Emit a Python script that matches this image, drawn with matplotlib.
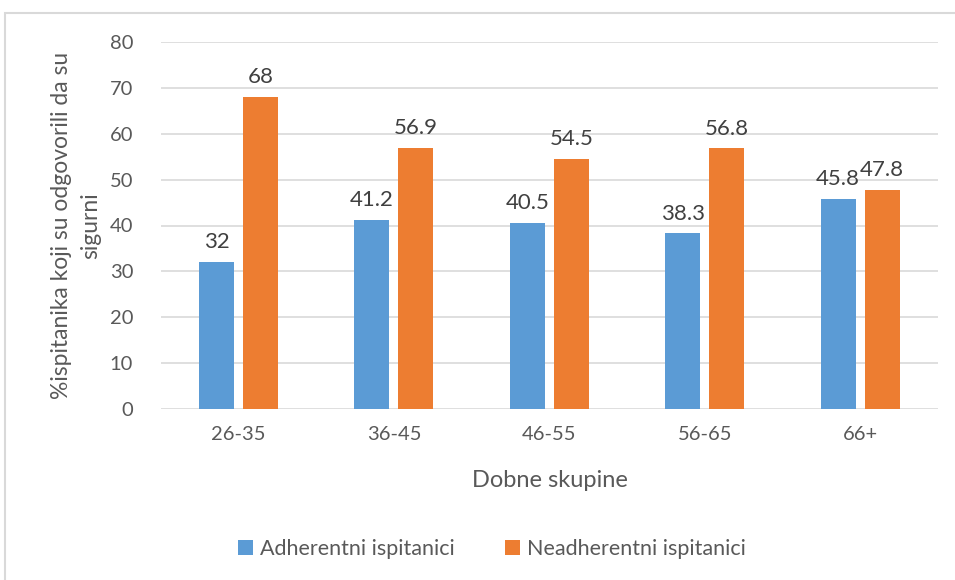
import numpy as np
import matplotlib.pyplot as plt
from matplotlib.patches import Rectangle

groups = ["26-35", "36-45", "46-55", "56-65", "66+"]
adherent = [32, 41.2, 40.5, 38.3, 45.8]
non_adherent = [68, 56.9, 54.5, 56.8, 47.8]
series_names = ["Adherentni ispitanici", "Neadherentni ispitanici"]
yticks = [0, 10, 20, 30, 40, 50, 60, 70, 80]

BLUE = "#5b9bd5"
ORANGE = "#ed7d31"
TEXT = "#595959"
GRID = "#d9d9d9"

plt.rcParams["font.family"] = ["Lato", "DejaVu Sans"]


def main():
    fig = plt.figure(figsize=(9.55, 5.8), dpi=100)
    # chart frame like the office chart border
    fig.patches.append(Rectangle((5 / 955, -0.05), 1.0, 1.05 - 13 / 580, transform=fig.transFigure,
                                 fill=False, edgecolor=GRID, linewidth=1.5))
    ax = fig.add_axes([161 / 955, 1 - 409 / 580, (938 - 161) / 955, (409 - 42) / 580])

    x = np.arange(len(groups))
    w = 0.225
    b1 = ax.bar(x - 0.143, adherent, w, color=BLUE, label=series_names[0], zorder=3)
    b2 = ax.bar(x + 0.14, non_adherent, w, color=ORANGE, label=series_names[1], zorder=3)
    for bars, vals in ((b1, adherent), (b2, non_adherent)):
        for r, v in zip(bars, vals):
            ax.annotate("{0:g}".format(v), (r.get_x() + r.get_width() / 2, v),
                        xytext=(0, 7), textcoords="offset points",
                        ha="center", va="bottom", fontsize=16, color="#404040")

    ax.set_xlim(-0.5, len(groups) - 0.5)
    ax.set_ylim(0, 80)
    ax.set_yticks(yticks)
    ax.set_xticks(x)
    ax.set_xticklabels(groups)
    ax.grid(axis="y", color=GRID, linewidth=1.2, zorder=0)
    for s in ax.spines.values():
        s.set_visible(False)
    ax.tick_params(length=0, labelsize=14.5, colors=TEXT, pad=12)
    ax.tick_params(axis="y", pad=20)

    ax.set_xlabel("Dobne skupine", fontsize=17, color=TEXT, labelpad=20)
    ax.set_ylabel("%ispitanika koji su odgovorili da su\nsigurni", fontsize=16.5,
                  color=TEXT, labelpad=6, linespacing=1.5)

    ax.legend(loc="center", bbox_to_anchor=(492 / 955, 1 - 549 / 580),
              bbox_transform=fig.transFigure, ncol=2, frameon=False,
              fontsize=15.5, labelcolor=TEXT, handlelength=0.7, handleheight=0.7,
              columnspacing=2.3, handletextpad=0.35)

    fig.savefig("out.png", dpi=100)


if __name__ == "__main__":
    main()
